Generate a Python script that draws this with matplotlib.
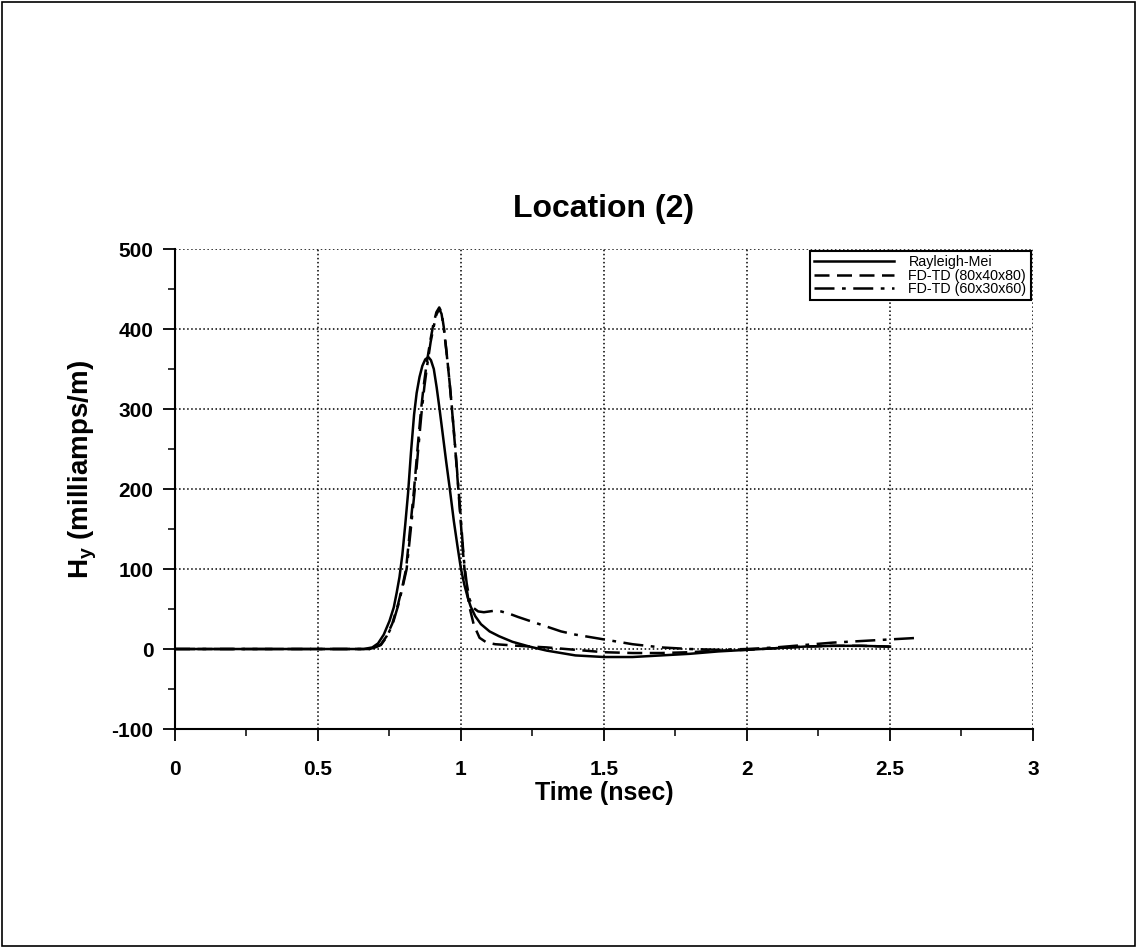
import matplotlib
matplotlib.use("Agg")
from matplotlib import pyplot as plt
from matplotlib.patches import Rectangle
from matplotlib.ticker import MultipleLocator

plt.rcParams['font.family'] = ['Liberation Sans', 'DejaVu Sans']
plt.rcParams['axes.unicode_minus'] = False

# Rayleigh-Mei (solid)
t_rm = [0, 0.6, 0.66, 0.69, 0.71, 0.73, 0.75, 0.765, 0.775, 0.785, 0.795, 0.805,
        0.815, 0.825, 0.836, 0.845, 0.855, 0.865, 0.875, 0.886, 0.895, 0.905,
        0.915, 0.924, 0.935, 0.948, 0.961, 0.975, 0.988, 1.0, 1.012, 1.024,
        1.034, 1.05, 1.07, 1.10, 1.133, 1.18, 1.24, 1.30, 1.40, 1.50, 1.60, 1.70,
        1.80, 1.90, 2.00, 2.10, 2.20, 2.30, 2.40, 2.50]
h_rm = [0, 0, 0, 2, 7, 18, 35, 52, 70, 90, 118, 155,
        195, 245, 293, 320, 340, 354, 362, 365, 361, 350,
        327, 303, 272, 235, 200, 160, 128, 100, 80, 64,
        53, 41, 31, 22, 16, 9, 3, -2, -8, -10, -10, -8,
        -6, -3, -1, 1, 3, 4, 4, 3]

# FD-TD 80x40x80 (dashed)
t_fd1 = [0, 0.6, 0.68, 0.70, 0.72, 0.74, 0.76, 0.78, 0.795, 0.808, 0.822, 0.836,
         0.848, 0.86, 0.87, 0.88, 0.893, 0.903, 0.914, 0.924, 0.932, 0.94, 0.95,
         0.96, 0.968, 0.98, 0.99, 1.0, 1.01, 1.02, 1.03, 1.045, 1.065, 1.09,
         1.12, 1.2, 1.3, 1.4, 1.5, 1.6, 1.7, 1.8, 1.9, 2.0, 2.1, 2.2, 2.3, 2.4,
         2.5]
h_fd1 = [0, 0, 0, 2, 6, 16, 32, 56, 78, 100, 150, 200,
         250, 298, 330, 357, 386, 405, 421, 427, 421, 402, 370,
         334, 302, 250, 203, 155, 108, 75, 52, 30, 14, 8,
         6, 4, 2, -1, -4, -5, -5, -4, -2, -1, 1, 3, 4, 4,
         3]

# FD-TD 60x30x60 (dash-dot)
t_fd2 = [0, 0.6, 0.68, 0.70, 0.72, 0.74, 0.76, 0.78, 0.795, 0.81, 0.824, 0.838,
         0.85, 0.862, 0.872, 0.882, 0.894, 0.904, 0.914, 0.924, 0.932, 0.94,
         0.95, 0.96, 0.968, 0.98, 0.99, 1.0, 1.01, 1.02, 1.03, 1.045, 1.06,
         1.08, 1.10, 1.12, 1.14, 1.17, 1.2, 1.25, 1.3, 1.35, 1.4, 1.5, 1.6,
         1.7, 1.8, 1.9, 2.0, 2.1, 2.2, 2.3, 2.4, 2.5, 2.6]
h_fd2 = [0, 0, 0, 2, 5, 15, 30, 54, 76, 100, 148, 198,
         248, 295, 328, 355, 384, 402, 418, 425, 419, 401,
         369, 334, 303, 252, 206, 160, 112, 82, 62, 51, 47,
         46, 47, 48, 47, 44, 40, 34, 28, 22, 18, 12, 6,
         2, 0, -1, 0, 2, 5, 8, 10, 12, 14]

labels = ["Rayleigh-Mei", "FD-TD (80x40x80)", "FD-TD (60x30x60)"]

fig = plt.figure(figsize=(11.37, 9.48), dpi=100)
ax = fig.add_axes([0.1539, 0.231, 0.7546, 0.5063])

ax.plot(t_rm, h_rm, color='black', lw=1.8, ls='-', label=labels[0])
ax.plot(t_fd1, h_fd1, color='black', lw=1.8, ls=(0, (6, 3)), label=labels[1])
ax.plot(t_fd2, h_fd2, color='black', lw=1.8, ls=(0, (8, 3, 1.5, 3)), label=labels[2])

ax.set_xlim(0, 3)
ax.set_ylim(-100, 500)
ax.xaxis.set_major_locator(MultipleLocator(0.5))
ax.xaxis.set_minor_locator(MultipleLocator(0.25))
ax.yaxis.set_major_locator(MultipleLocator(100))
ax.yaxis.set_minor_locator(MultipleLocator(50))
ax.set_xticks([0, 0.5, 1, 1.5, 2, 2.5, 3])
ax.set_xticklabels(["0", "0.5", "1", "1.5", "2", "2.5", "3"])

ax.grid(True, which='major', ls=':', color='black', lw=1.1)
ax.spines['top'].set_visible(False)
ax.spines['right'].set_visible(False)
ax.spines['left'].set_linewidth(1.5)
ax.spines['bottom'].set_linewidth(1.5)

ax.tick_params(axis='both', which='major', direction='out', length=8.5, width=1.3,
               labelsize=15)
ax.tick_params(axis='both', which='minor', direction='out', length=5, width=1.1)
ax.tick_params(axis='x', which='major', pad=14)
ax.tick_params(axis='y', which='major', pad=7)
for lab in ax.get_xticklabels() + ax.get_yticklabels():
    lab.set_fontweight('bold')

ax.set_title("Location (2)", fontsize=23, fontweight='bold', pad=23)
ax.set_xlabel("Time (nsec)", fontsize=18, fontweight='bold', labelpad=1)
ax.set_ylabel(r"H$_\mathregular{y}$ (milliamps/m)", fontsize=20, fontweight='bold')
ax.yaxis.set_label_coords(-0.088, 0.54)

leg = ax.legend(loc='upper right', fontsize=10.3, handlelength=5.6,
                labelspacing=-0.05, borderaxespad=0.15, fancybox=False,
                framealpha=1, edgecolor='black', borderpad=0.3, handletextpad=1.0)
leg.get_frame().set_linewidth(1.5)

fig.patches.append(Rectangle((0.002, 0.002), 0.996, 0.996, transform=fig.transFigure,
                             fill=False, edgecolor='black', lw=1.2))

fig.savefig("out.png", dpi=100)
